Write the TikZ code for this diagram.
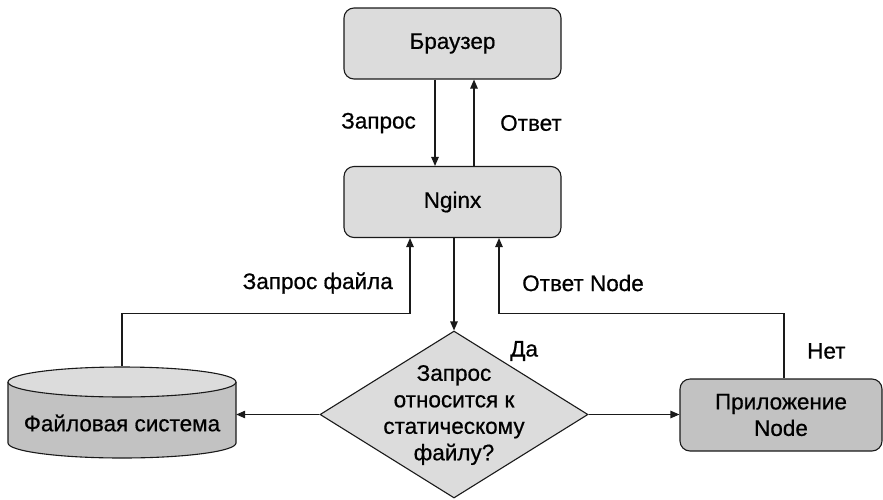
\documentclass[tikz,border=0pt]{standalone}
\usepackage{fontspec}
\setmainfont{Liberation Sans}[FakeBold=0.6]
\usetikzlibrary{shapes.geometric,arrows.meta}
\definecolor{lightfill}{HTML}{DCDCDC}
\definecolor{darkfill}{HTML}{C2C2C2}
\definecolor{linec}{HTML}{1A1A1A}
\begin{document}
\begin{tikzpicture}[x=1pt,y=-1pt,
  font=\fontsize{22.5}{26.5}\selectfont,
  box/.style={draw=linec,line width=1.1pt,rounded corners=10pt,fill=lightfill,minimum width=217pt,minimum height=71pt,inner sep=0pt},
  appbox/.style={box,fill=darkfill,minimum width=202pt,minimum height=72pt,align=center},
  decision/.style={diamond,draw=linec,line width=1.1pt,fill=lightfill,minimum width=268pt,minimum height=167pt,inner sep=0pt},
  conn/.style={draw=linec,line width=1.1pt},
  arr/.style={conn,-{Triangle[length=9pt,width=7.5pt]}},
  lbl/.style={inner sep=0pt}
]
\useasboundingbox (0,0) rectangle (883,499);
\node[box] (b) at (452.5,43.5) {Браузер};
\node[box] (n) at (452.5,202) {Nginx};
\node[decision] (d) at (454,414.5) {};
\node[align=center,lbl] (dt) at (454,415) {Запрос\\относится к\\статическому\\файлу?};
\node[appbox] (app) at (781,415) {Приложение\\Node};
% cylinder
\node[minimum width=228pt,minimum height=92pt,inner sep=0pt] (fs) at (122,412) {};
\fill[darkfill] (8,382) -- (8,443) arc[start angle=180,end angle=0,x radius=114,y radius=15] -- (236,382) -- cycle;
\draw[conn] (8,382) -- (8,443) arc[start angle=180,end angle=0,x radius=114,y radius=15] -- (236,382);
\draw[conn,fill=lightfill] (122,382) ellipse[x radius=114,y radius=15];
\node[lbl] at (122,423) {Файловая система};
% connectors
\draw[arr] ([xshift=-17.5pt]b.south) -- ([xshift=-17.5pt]n.north);
\draw[arr] ([xshift=21.5pt]n.north) -- ([xshift=21.5pt]b.south);
\draw[arr] (n.south -| d.north) -- (d.north);
\draw[arr] (fs.north) |- ([xshift=-42.5pt,yshift=-75pt]n.south) -- ([xshift=-42.5pt]n.south);
\draw[arr] ([xshift=3pt]app.north) |- ([xshift=46.5pt,yshift=-75pt]n.south) -- ([xshift=46.5pt]n.south);
\draw[arr] (d.west) -- (d.west -| fs.east);
\draw[arr] (d.east) -- (d.east -| app.west);
% labels
\node[lbl,anchor=east] at (416,123) {Запрос};
\node[lbl,anchor=west] at (500,123) {Ответ};
\node[lbl,anchor=east] at (393,283) {Запрос файла};
\node[lbl,anchor=west] at (522,283) {Ответ Node};
\node[lbl,anchor=west] at (510,351) {Да};
\node[lbl,anchor=west] at (807,351) {Нет};
\end{tikzpicture}
\end{document}
